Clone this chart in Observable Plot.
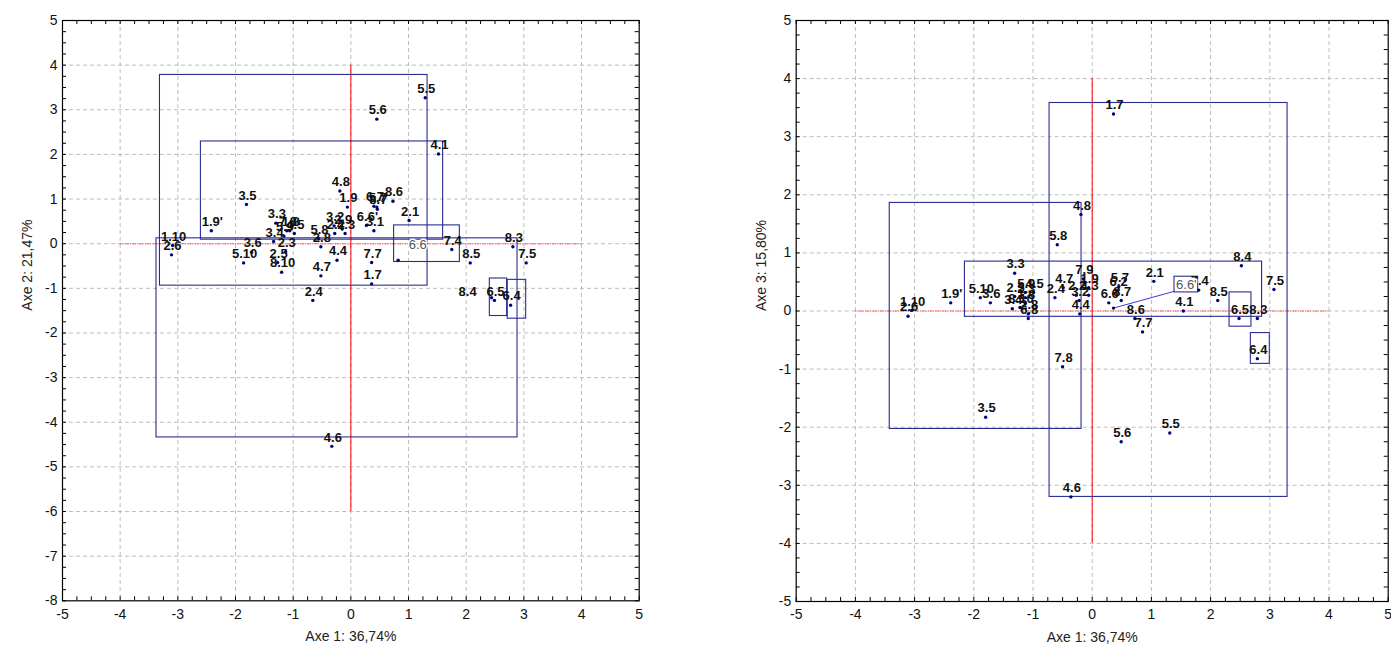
<!DOCTYPE html>
<html>
<head>
<meta charset="utf-8">
<script src="https://cdn.jsdelivr.net/npm/d3@7"></script>
<script src="https://cdn.jsdelivr.net/npm/@observablehq/plot@0.6"></script>
<style>
  html, body { margin: 0; padding: 0; background: white; }
  #wrap { display: flex; width: 1391px; height: 653px; }
  #wrap svg { overflow: visible; }
</style>
</head>
<body>
<div id="wrap"><div id="left"></div><div id="right"></div></div>
<script>
// ---------- Left chart: Axe 1 vs Axe 2 ----------
const leftLabels = ["5.5","5.6","4.1","4.8","1.9","6.7","5.7","8.7","8.6","2.1","6.6'","3.1","3.5","1.9'","3.3","7.8","1.8","4.5","5.9","3.4","2.3","2.5","8.10","3.2","2.9","2.2","4.3","5.8","2.8","1.10","2.6","3.6","5.10","4.4","4.7","7.7","1.7","2.4","4.6","7.4","6.6","8.5","8.3","7.5","8.4","6.5","6.4"];
const leftAxe1 = [1.29,0.45,1.52,-0.19,-0.06,0.40,0.45,0.46,0.73,1.01,0.27,0.40,-1.81,-2.42,-1.30,-1.11,-1.06,-0.98,-1.16,-1.34,-1.13,-1.27,-1.20,-0.29,-0.15,-0.28,-0.10,-0.56,-0.52,-3.09,-3.11,-1.72,-1.86,-0.24,-0.52,0.36,0.36,-0.66,-0.33,1.75,0.82,2.07,2.81,3.04,2.44,2.49,2.77];
const leftAxe2 = [3.27,2.79,2.01,1.18,0.82,0.84,0.82,0.77,0.95,0.52,0.41,0.29,0.88,0.29,0.46,0.29,0.29,0.23,0.17,0.05,-0.18,-0.42,-0.64,0.40,0.33,0.23,0.23,0.11,-0.07,-0.04,-0.25,-0.19,-0.43,-0.37,-0.72,-0.42,-0.90,-1.27,-4.54,-0.13,-0.37,-0.43,-0.07,-0.43,-1.21,-1.27,-1.38];
// group boxes: [x1, x2, y1, y2]
const leftBoxX1 = [-3.31,-2.60,-3.37,0.75,2.41,2.72];
const leftBoxX2 = [1.33,1.60,2.89,1.89,2.71,3.04];
const leftBoxY1 = [3.78,2.29,0.12,0.41,-0.78,-0.81];
const leftBoxY2 = [-0.94,0.09,-4.34,-0.41,-1.62,-1.68];
const leftCalloutText = ["6.6"];
const leftCalloutX = [1.16];
const leftCalloutY = [-0.02];

// ---------- Right chart: Axe 1 vs Axe 3 ----------
const rightLabels = ["5.8","3.3","5.10","3.6","1.9'","1.10","2.6","2.5","5.9","4.5","2.3","3.4","8.10","1.8","2.8","6.8","2.4","4.7","7.9","1.9","2.2","3.2","4.3","4.4","5.7","6.2","8.7","6.6","6.6'","8.6","7.7","2.1","7.4","4.1","8.5","8.4","7.5","6.5","8.3","6.4","7.8","1.7","4.8","3.5","5.6","5.5","4.6"];
const rightAxe1 = [-0.59,-1.31,-1.89,-1.72,-2.39,-3.05,-3.11,-1.31,-1.13,-0.99,-1.13,-1.35,-1.22,-1.13,-1.08,-1.08,-0.63,-0.49,-0.15,-0.06,-0.27,-0.22,-0.06,-0.21,0.45,0.43,0.49,0.28,0.36,0.72,0.85,1.04,1.80,1.54,2.12,2.52,3.07,2.48,2.79,2.79,-0.50,0.36,-0.19,-1.80,0.49,1.31,-0.36];
const rightAxe3 = [1.14,0.65,0.23,0.14,0.14,0.01,-0.09,0.25,0.32,0.32,0.23,0.04,0.06,0.13,-0.05,-0.13,0.23,0.40,0.55,0.40,0.27,0.18,0.27,-0.05,0.42,0.35,0.18,0.14,0.05,-0.13,-0.36,0.51,0.36,0.00,0.18,0.78,0.37,-0.13,-0.13,-0.82,-0.96,3.39,1.66,-1.83,-2.25,-2.10,-3.20];
const rightBoxX1 = [-2.15,-0.72,-3.42,1.39,2.32,2.68];
const rightBoxX2 = [2.87,3.30,-0.18,1.79,2.69,3.00];
const rightBoxY1 = [0.85,3.58,1.86,0.59,0.32,-0.38];
const rightBoxY2 = [-0.10,-3.20,-2.03,0.32,-0.27,-0.91];
const rightCalloutText = ["6.6'"];
const rightCalloutX = [1.59];
const rightCalloutY = [0.45];
const rightLinkX1 = [0.36], rightLinkY1 = [0.05], rightLinkX2 = [1.39], rightLinkY2 = [0.34];

// axis tick values
const xTicks = [-5,-4,-3,-2,-1,0,1,2,3,4,5];
const leftYTicks = [5,4,3,2,1,0,-1,-2,-3,-4,-5,-6,-7,-8];
const rightYTicks = [5,4,3,2,1,0,-1,-2,-3,-4,-5];

const BLUE = "#2b2b94";
const DOT = "#00007a";
const FONT = "Arial, 'Liberation Sans', sans-serif";

function makeChart(o) {
  const frameH = o.height - o.marginTop - o.marginBottom;
  const frameW = o.width - o.marginLeft - o.marginRight;
  const [y0, y1] = o.yDomain;
  const minorX = d3.range(-5, 5.001, 0.25);
  const minorY = d3.range(y0, y1 + 0.001, 0.25);
  const pts = o.labels.map((l, i) => ({label: l, x: o.xs[i], y: o.ys[i]}));
  const boxes = o.bx1.map((d, i) => ({x1: d, x2: o.bx2[i], y1: o.by1[i], y2: o.by2[i]}));
  const gx = xTicks.filter(d => d > -5 && d < 5);
  const gy = o.yTicks.filter(d => d > y0 && d < y1);
  const shifted = o.sideLabels || [];
  const marks = [
    Plot.gridX(gx, {stroke: "#bdbdbd", strokeOpacity: 1, strokeDasharray: "4,3"}),
    Plot.gridY(gy, {stroke: "#bdbdbd", strokeOpacity: 1, strokeDasharray: "4,3"}),
    Plot.ruleY([0], {x1: -4, x2: 4, stroke: "#ff5050", strokeWidth: 1.6, strokeOpacity: 0.7, strokeDasharray: "1.5,1"}),
    Plot.ruleX([0], {y1: o.vLine[0], y2: o.vLine[1], stroke: "#ff0000", strokeWidth: 1}),
    Plot.rect(boxes, {x1: "x1", x2: "x2", y1: "y1", y2: "y2", fill: "none", stroke: BLUE, strokeWidth: 1.1}),
  ];
  if (o.links) marks.push(Plot.link(o.links, {x1: "x1", y1: "y1", x2: "x2", y2: "y2", stroke: "#3a3ae0", strokeWidth: 1}));
  const labelStyle = {fontSize: 13, fontWeight: "bold", fill: "#111", fontFamily: FONT};
  marks.push(
    Plot.dot(pts, {x: "x", y: "y", r: 1.7, fill: DOT, stroke: "none"}),
    Plot.text(pts.filter(d => !o.hide.includes(d.label) && !shifted.includes(d.label)),
      {x: "x", y: "y", text: "label", dy: -9, dx: 1, ...labelStyle}),
    Plot.text(pts.filter(d => shifted.includes(d.label)),
      {x: "x", y: "y", text: "label", dy: -6, dx: -24, ...labelStyle}),
    Plot.text(o.callout, {x: "x", y: "y", text: "t", fontSize: 13, fill: "#555", stroke: "white", strokeWidth: 3,
      paintOrder: "stroke", fontFamily: FONT}),
    // minor inward tick marks on all four sides
    Plot.tickX(minorX, {x: d => d, insetTop: frameH - 4, stroke: "black"}),
    Plot.tickX(minorX, {x: d => d, insetBottom: frameH - 4, stroke: "black"}),
    Plot.tickY(minorY, {y: d => d, insetRight: frameW - 4, stroke: "black"}),
    Plot.tickY(minorY, {y: d => d, insetLeft: frameW - 4, stroke: "black"}),
    Plot.axisX(xTicks, {tickSize: 0, tickPadding: 8, fontSize: 14, fill: "#111", label: null, tickFormat: d => String(d)}),
    Plot.axisY(o.yTicks, {tickSize: 0, tickPadding: 5, fontSize: 14, fill: "#111", label: null, tickFormat: d => String(d)}),
    Plot.text([o.xLabel], {frameAnchor: "bottom", dy: 40, fontSize: 14, fill: "#222", fontFamily: FONT}),
    Plot.text([o.yLabel], {frameAnchor: "left", rotate: -90, dx: -35, fontSize: 14, fill: "#222", fontFamily: FONT}),
    Plot.frame({stroke: "black", strokeWidth: 1.2})
  );
  return Plot.plot({
    width: o.width, height: o.height,
    marginLeft: o.marginLeft, marginRight: o.marginRight,
    marginTop: o.marginTop, marginBottom: o.marginBottom,
    style: {fontFamily: FONT, fontSize: "14px", background: "white", overflow: "visible"},
    x: {domain: [-5, 5]},
    y: {domain: o.yDomain},
    marks
  });
}

const leftChart = makeChart({
  width: 700, height: 653, marginLeft: 62, marginRight: 61.3, marginTop: 20, marginBottom: 52.7,
  yDomain: [-8, 5], yTicks: leftYTicks, vLine: [4, -6],
  labels: leftLabels, xs: leftAxe1, ys: leftAxe2,
  bx1: leftBoxX1, bx2: leftBoxX2, by1: leftBoxY1, by2: leftBoxY2,
  hide: ["6.6"], sideLabels: ["8.4"],
  callout: leftCalloutText.map((t, i) => ({t, x: leftCalloutX[i], y: leftCalloutY[i]})),
  xLabel: "Axe 1: 36,74%", yLabel: "Axe 2: 21,47%"
});
const rightChart = makeChart({
  width: 691, height: 653, marginLeft: 95.7, marginRight: 3.3, marginTop: 20, marginBottom: 52,
  yDomain: [-5, 5], yTicks: rightYTicks, vLine: [4, -4],
  labels: rightLabels, xs: rightAxe1, ys: rightAxe3,
  bx1: rightBoxX1, bx2: rightBoxX2, by1: rightBoxY1, by2: rightBoxY2,
  hide: ["6.6'"],
  links: rightLinkX1.map((d, i) => ({x1: d, y1: rightLinkY1[i], x2: rightLinkX2[i], y2: rightLinkY2[i]})),
  callout: rightCalloutText.map((t, i) => ({t, x: rightCalloutX[i], y: rightCalloutY[i]})),
  xLabel: "Axe 1: 36,74%", yLabel: "Axe 3: 15,80%"
});
document.getElementById("left").appendChild(leftChart);
document.getElementById("right").appendChild(rightChart);
</script>
</body>
</html>
